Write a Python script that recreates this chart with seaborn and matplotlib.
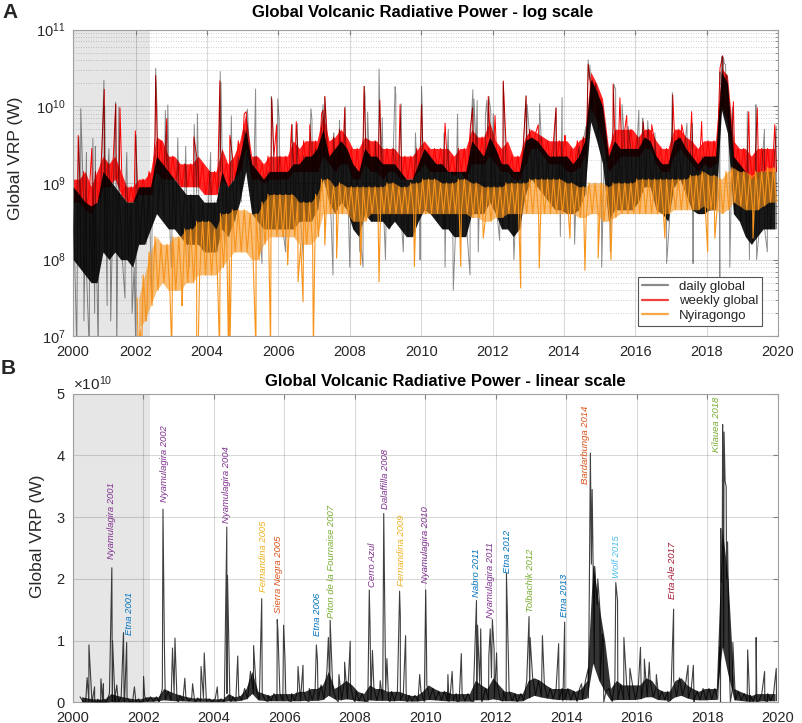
import numpy as np
import pandas as pd
import matplotlib
matplotlib.use("Agg")
import matplotlib.pyplot as plt
import seaborn as sns
from matplotlib.lines import Line2D
from matplotlib.ticker import LogLocator, NullFormatter, FixedLocator

nan = np.nan

# ---------------------------------------------------------------------------
# DATA
# Two-month bins, Jan-Feb 2000 ... Nov-Dec 2019 (6 per year), values = log10(W)
# ---------------------------------------------------------------------------
daily_hi = [
    nan, 8.95, 8.85, 8.75, 8.7, 8.75,      # 2000
    9.15, 9.05, 8.95, 8.85, 8.75, 8.75,    # 2001
    8.95, 8.95, 8.95, 9.35, 9.25, 9.15,    # 2002
    9.05, 8.95, 8.85, 8.85, 8.85, 8.75,    # 2003
    8.75, 8.75, 9.15, 8.95, 9.05, 9.35,    # 2004
    9.7, 9.25, 9.15, 9.05, 9.15, 9.15,     # 2005
    9.15, 9.15, 9.25, 9.25, 9.35, 9.35,    # 2006
    9.45, 9.7, 9.35, 9.45, 9.55, 9.45,     # 2007
    9.25, 9.15, 9.45, 9.35, 9.35, 9.25,    # 2008
    9.25, 9.25, 9.15, 9.05, 9.05, 9.25,    # 2009
    9.45, 9.35, 9.25, 9.25, 9.15, 9.15,    # 2010
    9.15, 9.15, 9.55, 9.45, 9.35, 9.6,     # 2011
    9.45, 9.25, 9.25, 9.15, 9.15, 9.55,    # 2012
    9.6, 9.55, 9.45, 9.35, 9.35, 9.35,     # 2013
    9.35, 9.25, 9.35, 9.55, 10.35, 10.2,   # 2014
    10.0, 9.35, 9.55, 9.45, 9.45, 9.45,    # 2015
    9.45, 9.6, 9.55, 9.35, 9.25, 9.25,     # 2016
    9.55, 9.6, 9.45, 9.35, 9.25, 9.35,     # 2017
    9.35, 9.35, 10.45, 10.3, 9.35, 9.25,   # 2018
    9.15, 9.05, 9.15, 9.15, 9.15, 9.15,    # 2019
]
daily_lo = [
    nan, 8.0, 7.9, 7.8, 7.7, 7.7,
    8.1, 8.0, 8.1, 8.0, 8.0, 7.9,
    8.2, 8.2, 8.4, 8.6, 8.5, 8.4,
    8.4, 8.3, 8.2, 8.2, 8.2, 8.1,
    8.1, 8.1, 8.4, 8.3, 8.5, 8.75,
    9.15, 8.6, 8.5, 8.4, 8.4, 8.4,
    8.4, 8.4, 8.4, 8.5, 8.5, 8.5,
    8.65, 9.05, 8.75, 8.6, 8.75, 8.65,
    8.4, 8.3, 8.6, 8.5, 8.5, 8.5,
    8.4, 8.5, 8.4, 8.3, 8.3, 8.5,
    8.65, 8.6, 8.5, 8.4, 8.4, 8.3,
    8.3, 8.3, 8.6, 8.6, 8.6, 8.75,
    8.6, 8.4, 8.4, 8.3, 8.4, 8.85,
    9.05, 8.95, 8.85, 8.75, 8.65, 8.65,
    8.6, 8.6, 8.65, 8.85, 9.8, 9.55,
    9.25, 8.5, 8.65, 8.65, 8.65, 8.65,
    8.75, 8.95, 8.95, 8.65, 8.6, 8.5,
    8.95, 9.05, 8.85, 8.65, 8.6, 8.6,
    8.65, 8.65, 9.95, 9.65, 8.6, 8.5,
    8.3, 8.2, 8.3, 8.4, 8.4, 8.4,
]
weekly_hi = [
    nan, 9.05, 9.05, 9.15, 8.95, 9.15,
    9.35, 9.25, 9.35, 9.15, 8.95, 8.95,
    9.05, 9.05, 9.15, 9.6, 9.55, 9.35,
    9.35, 9.25, 9.25, 9.25, 9.35, 9.25,
    9.15, 9.15, 9.45, 9.25, 9.35, 9.55,
    9.9, 9.35, 9.35, 9.25, 9.35, 9.35,
    9.35, 9.35, 9.55, 9.45, 9.55, 9.55,
    9.55, 9.9, 9.55, 9.6, 9.7, 9.6,
    9.45, 9.45, 9.6, 9.55, 9.55, 9.45,
    9.45, 9.45, 9.35, 9.35, 9.35, 9.45,
    9.55, 9.45, 9.45, 9.45, 9.45, 9.35,
    9.45, 9.45, 9.7, 9.6, 9.6, 9.8,
    9.55, 9.45, 9.55, 9.35, 9.35, 9.6,
    9.7, 9.65, 9.6, 9.55, 9.55, 9.55,
    9.55, 9.45, 9.55, 9.6, 10.45, 10.3,
    10.1, 9.45, 9.7, 9.7, 9.7, 9.7,
    9.6, 9.7, 9.7, 9.55, 9.45, 9.45,
    9.7, 9.7, 9.6, 9.55, 9.45, 9.55,
    9.55, 9.55, 10.5, 10.4, 9.55, 9.45,
    9.45, 9.35, 9.45, 9.45, 9.45, 9.45,
]
weekly_lo = [
    nan, 8.75, 8.75, 8.65, 8.6, 8.75,
    8.95, 8.95, 9.05, 8.85, 8.75, 8.75,
    8.85, 8.85, 8.85, 9.15, 9.05, 9.05,
    9.05, 8.95, 8.95, 8.95, 8.95, 8.85,
    8.85, 8.85, 9.05, 8.95, 9.05, 9.15,
    9.45, 9.05, 9.05, 9.0, 9.05, 9.05,
    9.05, 9.05, 9.15, 9.15, 9.15, 9.15,
    9.15, 9.35, 9.25, 9.15, 9.25, 9.25,
    9.05, 9.05, 9.25, 9.15, 9.15, 9.05,
    9.15, 9.15, 9.05, 9.05, 9.05, 9.15,
    9.25, 9.15, 9.15, 9.15, 9.15, 9.1,
    9.15, 9.05, 9.25, 9.25, 9.25, 9.35,
    9.25, 9.15, 9.15, 9.05, 9.05, 9.25,
    9.45, 9.45, 9.35, 9.25, 9.25, 9.25,
    9.15, 9.15, 9.2, 9.35, 10.0, 9.8,
    9.55, 9.15, 9.25, 9.35, 9.35, 9.35,
    9.35, 9.45, 9.45, 9.25, 9.15, 9.15,
    9.35, 9.45, 9.35, 9.25, 9.15, 9.25,
    9.2, 9.25, 10.0, 9.8, 9.2, 9.15,
    9.05, 9.05, 9.05, 9.15, 9.1, 9.15,
]
nyira_hi = [
    nan, nan, nan, nan, nan, nan,
    nan, nan, nan, nan, nan, nan,
    7.5, 7.8, 8.1, 8.3, 8.2, 8.2,
    8.3, 8.3, 8.4, 8.4, 8.5, 8.5,
    8.5, 8.4, 8.6, 8.6, 8.65, 8.65,
    8.65, 8.6, 8.6, 8.75, 8.85, 8.85,
    8.85, 8.85, 8.85, 8.75, 8.75, 8.75,
    8.85, 9.05, 9.05, 8.95, 9.0, 8.95,
    8.95, 8.95, 8.95, 8.95, 8.95, 8.95,
    9.0, 9.0, 8.95, 8.95, 9.0, 9.0,
    9.05, 9.05, 9.05, 9.0, 9.0, 9.0,
    9.05, 9.05, 9.0, 9.0, 8.95, 8.95,
    8.95, 8.95, 9.0, 9.0, 9.0, 9.0,
    9.05, 9.05, 9.05, 9.05, 9.05, 9.05,
    9.0, 9.0, 8.95, 8.95, 9.0, 9.0,
    9.0, 8.95, 9.0, 9.0, 9.0, 9.0,
    9.05, 9.05, 9.05, 9.05, 9.05, 9.05,
    9.05, 9.05, 9.05, 9.1, 9.1, 9.15,
    9.1, 9.1, 9.05, 9.15, 9.2, 9.15,
    9.15, 9.1, 9.15, 9.15, 9.2, 9.2,
]
nyira_lo = [
    nan, nan, nan, nan, nan, nan,
    nan, nan, nan, nan, nan, nan,
    7.1, 7.2, 7.4, 7.6, 7.7, 7.6,
    7.6, 7.6, 7.7, 7.7, 7.8, 7.8,
    7.8, 7.8, 7.9, 8.0, 8.1, 8.1,
    8.1, 8.0, 8.0, 8.2, 8.3, 8.3,
    8.3, 8.3, 8.3, 8.2, 8.2, 8.2,
    8.3, 8.6, 8.6, 8.6, 8.6, 8.6,
    8.5, 8.5, 8.5, 8.6, 8.6, 8.6,
    8.6, 8.6, 8.6, 8.6, 8.6, 8.6,
    8.6, 8.6, 8.6, 8.6, 8.6, 8.6,
    8.6, 8.6, 8.55, 8.55, 8.5, 8.5,
    8.55, 8.55, 8.6, 8.6, 8.6, 8.6,
    8.6, 8.6, 8.6, 8.6, 8.6, 8.6,
    8.6, 8.6, 8.55, 8.55, 8.6, 8.6,
    8.5, 8.5, 8.55, 8.6, 8.6, 8.6,
    8.6, 8.6, 8.6, 8.6, 8.6, 8.6,
    8.65, 8.65, 8.65, 8.65, 8.65, 8.7,
    8.65, 8.65, 8.6, 8.65, 8.75, 8.7,
    8.65, 8.65, 8.65, 8.7, 8.75, 8.75,
]

# Daily peaks (year, VRP in units of 1e10 W)
daily_peak_year = [
    2000.41, 2000.46, 2000.62, 2000.80, 2000.87, 2001.11, 2001.13, 2001.25, 2001.44, 2001.53,
    2001.75, 2002.01, 2002.56, 2002.60, 2002.83, 2002.90, 2003.18, 2003.40, 2003.64, 2003.73,
    2004.10, 2004.37, 2004.39, 2004.68, 2005.13, 2005.36, 2005.80, 2005.82, 2005.98, 2006.02,
    2006.39, 2006.53, 2006.91, 2006.94, 2007.25, 2007.30, 2007.55, 2007.71, 2007.87, 2008.41,
    2008.43, 2008.50, 2008.72, 2008.82, 2008.91, 2009.27, 2009.29, 2009.44, 2009.84, 2010.01,
    2010.03, 2010.64, 2010.76, 2011.02, 2011.45, 2011.48, 2011.57, 2011.80, 2011.84, 2011.90,
    2011.95, 2012.02, 2012.30, 2012.94, 2012.97, 2013.32, 2013.78, 2013.95, 2014.43, 2014.62,
    2014.68, 2014.73, 2014.80, 2014.83, 2014.89, 2014.95, 2015.02, 2015.40, 2015.45, 2015.63,
    2015.80, 2016.10, 2016.21, 2016.35, 2016.55, 2017.04, 2017.45, 2017.60, 2018.35, 2018.39,
    2018.42, 2018.43, 2018.47, 2018.50, 2018.53, 2018.57, 2018.60, 2018.72, 2019.14, 2019.38,
    2019.62, 2019.95,
]
daily_peak_1e10 = [
    0.40, 0.93, 0.25, 0.38, 0.30, 2.18, 1.00, 0.28, 1.13, 0.97,
    0.25, 0.42, 3.13, 0.92, 0.88, 1.04, 0.39, 0.30, 0.58, 0.80,
    0.25, 2.84, 2.05, 0.75, 0.92, 1.68, 1.34, 1.15, 1.25, 0.70,
    0.58, 0.60, 0.93, 0.68, 1.05, 1.33, 0.45, 0.65, 0.99, 1.82,
    1.30, 0.84, 0.35, 3.06, 0.71, 1.80, 1.40, 1.08, 0.45, 1.82,
    1.00, 0.45, 0.50, 0.79, 1.65, 1.25, 1.19, 0.75, 1.19, 1.34,
    0.85, 0.80, 2.09, 1.39, 1.05, 1.08, 0.95, 1.30, 0.30, 0.55,
    4.04, 3.45, 2.20, 1.94, 2.00, 1.50, 1.10, 1.94, 1.65, 1.05,
    0.55, 0.89, 0.70, 0.65, 0.45, 1.51, 0.60, 0.60, 0.90, 1.94,
    2.60, 4.50, 4.38, 3.58, 3.50, 2.60, 1.40, 0.97, 0.85, 1.05,
    0.50, 0.55,
]
# Daily low excursions (year, log10 W)
daily_dip_year = [
    2000.35, 2000.55, 2000.70, 2000.85, 2000.95, 2001.20, 2001.30, 2001.47, 2001.70, 2001.90,
    2002.00, 2002.45, 2003.00, 2003.50, 2004.30, 2004.50, 2005.54, 2006.20, 2006.70, 2007.53,
    2008.00, 2008.29, 2008.37, 2009.00, 2009.50, 2009.97, 2010.67, 2010.90, 2011.37, 2011.60,
    2012.20, 2012.60, 2013.90, 2014.30, 2015.06, 2015.30, 2016.88, 2017.62, 2018.37, 2018.65,
    2019.20, 2019.40, 2019.70,
]
daily_dip_log = [
    6.8, 7.2, 6.8, 7.3, 6.8, 7.4, 7.2, 6.8, 7.5, 7.3,
    6.9, 7.5, 7.9, 7.9, 8.1, 8.2, 7.95, 8.1, 8.0, 7.8,
    7.9, 8.1, 7.9, 8.0, 8.1, 8.0, 7.9, 7.6, 7.8, 8.1,
    8.25, 8.0, 8.3, 8.2, 7.9, 8.1, 7.95, 7.95, 7.7, 7.9,
    8.0, 8.0, 8.1,
]
# Weekly peaks (year, log10 W)
weekly_peak_year = [
    2000.39, 2000.77, 2001.12, 2001.44, 2001.56, 2001.99, 2002.56, 2002.87, 2003.63, 2004.36,
    2004.64, 2005.10, 2005.81, 2005.95, 2006.37, 2006.50, 2006.88, 2007.25, 2007.30, 2007.86,
    2008.40, 2008.84, 2009.41, 2010.01, 2010.67, 2011.44, 2011.88, 2012.07, 2012.30, 2012.94,
    2013.28, 2013.78, 2014.03, 2014.68, 2015.38, 2015.57, 2015.76, 2016.22, 2016.46, 2017.05,
    2017.30, 2017.58, 2017.86, 2018.45, 2018.75, 2019.18, 2019.42, 2019.91,
]
weekly_peak_log = [
    9.62, 9.45, 10.22, 10.03, 9.98, 9.68, 10.4, 9.84, 9.6, 10.33,
    9.62, 9.93, 10.11, 9.76, 9.76, 9.8, 9.76, 9.95, 10.13, 9.98,
    10.26, 10.08, 10.02, 10.02, 9.78, 9.98, 10.13, 9.88, 10.33, 10.13,
    9.76, 9.98, 9.62, 10.55, 10.29, 10.11, 9.88, 9.8, 9.76, 10.15,
    9.76, 9.93, 9.8, 10.66, 10.06, 9.93, 9.98, 9.76,
]
# Nyiragongo low excursions (year, log10 W)
nyira_dip_year = [
    2002.07, 2002.17, 2002.30, 2003.01, 2003.30, 2003.71, 2003.75, 2004.35, 2004.60, 2004.64,
    2005.37, 2005.78, 2006.26, 2006.55, 2006.69, 2006.98, 2007.30, 2007.63, 2008.30, 2008.82,
    2009.81, 2011.11, 2011.74, 2012.79, 2013.31, 2014.17, 2014.59, 2014.96, 2015.32, 2016.83,
    2018.03, 2018.23, 2019.30,
]
nyira_dip_log = [
    6.8, 6.8, 7.2, 6.8, 7.4, 6.8, 6.8, 6.8, 6.8, 6.8,
    6.8, 6.8, 7.93, 7.71, 7.45, 6.8, 8.19, 8.02, 7.93, 7.71,
    7.91, 7.91, 8.28, 7.63, 7.89, 8.28, 7.86, 8.02, 8.0, 8.28,
    8.1, 8.28, 8.28,
]

# Annotated eruptions (linear panel)
event_names = ["Nyamulagira 2001", "Etna 2001", "Nyamulagira 2002", "Nyamulagira 2004",
               "Fernandina 2005", "Sierra Negra 2005", "Etna 2006", "Piton de la Fournaise 2007",
               "Cerro Azul", "Dalaffilla 2008", "Fernandina 2009", "Nyamulagira 2010",
               "Nabro 2011", "Nyamulagira 2011", "Etna 2012", "Tolbachik 2012", "Etna 2013",
               "Bardarbunga 2014", "Wolf 2015", "Erta Ale 2017", "Kilauea 2018"]
event_year = [2001.11, 2001.60, 2002.61, 2004.36, 2005.40, 2005.83, 2006.93, 2007.33,
              2008.50, 2008.87, 2009.32, 2010.01, 2011.45, 2011.84, 2012.34, 2012.98,
              2013.95, 2014.55, 2015.43, 2017.02, 2018.27]
event_label_1e10 = [2.33, 1.09, 3.25, 2.91, 1.79, 1.45, 1.07, 1.37, 1.87, 3.14, 1.88, 1.93,
                    1.71, 1.37, 2.10, 1.47, 1.38, 3.54, 2.01, 1.67, 4.06]
event_group = ["purple", "blue", "purple", "purple", "yellow", "orange", "blue", "green",
               "purple", "purple", "yellow", "purple", "blue", "purple", "blue", "green",
               "blue", "orange", "cyan", "darkred", "green"]

# ---------------------------------------------------------------------------
palette = {"purple": "#7E2F8E", "blue": "#0072BD", "yellow": "#EDB120",
           "orange": "#D95319", "green": "#77AC30", "cyan": "#4DBEEE", "darkred": "#A2142F"}
C_RED = "#FF0000"
C_ORG = "#F7941D"

sns.set_style("white")
plt.rcParams['font.family'] = ['Liberation Sans', 'DejaVu Sans']
plt.rcParams['mathtext.fontset'] = 'custom'
plt.rcParams['mathtext.rm'] = 'Liberation Sans'
plt.rcParams['mathtext.it'] = 'Liberation Sans:italic'
plt.rcParams['mathtext.bf'] = 'Liberation Sans:bold'
plt.rcParams['axes.unicode_minus'] = False

t_bin = 2000 + (np.arange(len(daily_hi)) + 0.5) / 6.0


def build_series(hi, lo, extra_year, extra_log):
    hi = np.asarray(hi, float)
    lo = np.asarray(lo, float)
    t = np.column_stack([t_bin - 1 / 24, t_bin + 1 / 24]).ravel()
    v = np.column_stack([hi, lo]).ravel()
    t = np.concatenate([t, np.asarray(extra_year, float)])
    v = np.concatenate([v, np.asarray(extra_log, float)])
    m = ~np.isnan(v)
    return pd.DataFrame({"year": t[m], "W": 10.0 ** v[m]}).sort_values("year")


daily_extra_year = list(daily_peak_year) + list(daily_dip_year)
daily_extra_log = list(np.log10(np.asarray(daily_peak_1e10) * 1e10)) + list(daily_dip_log)
df_daily = build_series(daily_hi, daily_lo, daily_extra_year, daily_extra_log)
df_weekly = build_series(weekly_hi, weekly_lo, weekly_peak_year, weekly_peak_log)
df_nyira = build_series(nyira_hi, nyira_lo, nyira_dip_year, nyira_dip_log)

W = lambda a: 10.0 ** np.asarray(a, float)

fig = plt.figure(figsize=(8.03, 7.23), dpi=100)
FW, FH = 803.0, 723.0
ax1 = fig.add_axes([72.7 / FW, 1 - 336.3 / FH, 705.3 / FW, 306.7 / FH])
ax2 = fig.add_axes([72.7 / FW, 1 - 702.3 / FH, 705.3 / FW, 308.5 / FH])

SPINE = "#a0a0a0"
for ax in (ax1, ax2):
    for s in ax.spines.values():
        s.set_color(SPINE)
        s.set_linewidth(0.8)
    ax.tick_params(which="both", direction="in", color="#808080", labelcolor="#262626",
                   labelsize=10.5, top=True, right=True)
    ax.tick_params(which="major", length=3.5)
    ax.tick_params(which="minor", length=2)
    ax.tick_params(axis="x", pad=6)
    ax.tick_params(axis="y", pad=5)

# ---------------- Panel A: log scale ----------------
ax1.set_yscale("log")
x0_top = 2000.235
ax1.axvspan(x0_top, 2002.40, color="#e6e6e6", lw=0, zorder=0.5)
ax1.fill_between(t_bin, W(weekly_lo), W(weekly_hi), color=C_RED, alpha=0.85, lw=0, zorder=2)
sns.lineplot(data=df_weekly, x="year", y="W", ax=ax1, color=C_RED, lw=0.7,
             estimator=None, sort=True, zorder=2.1)
ax1.fill_between(t_bin, W(daily_lo), W(daily_hi), color="black", alpha=0.9, lw=0, zorder=3)
sns.lineplot(data=df_daily, x="year", y="W", ax=ax1, color="black", alpha=0.45, lw=0.7,
             estimator=None, sort=True, zorder=3.1)
ax1.fill_between(t_bin, W(nyira_lo), W(nyira_hi), color=C_ORG, alpha=0.6, lw=0, zorder=4)
sns.lineplot(data=df_nyira, x="year", y="W", ax=ax1, color=C_ORG, lw=0.8,
             estimator=None, sort=True, zorder=4.1)

ax1.set_xlim(x0_top, 2020)
ax1.set_ylim(1e7, 1e11)
ax1.yaxis.set_major_locator(LogLocator(base=10, numticks=10))
ax1.yaxis.set_minor_locator(LogLocator(base=10, subs=np.arange(2, 10), numticks=50))
ax1.yaxis.set_minor_formatter(NullFormatter())
ax1.set_xticks([x0_top] + list(range(2002, 2021, 2)))
ax1.set_xticklabels(["2000"] + [str(y) for y in range(2002, 2021, 2)])
ax1.grid(True, which="major", color="black", alpha=0.15, lw=0.8)
ax1.grid(True, which="minor", axis="y", color="black", alpha=0.25, lw=0.6, ls=(0, (1, 2)))
ax1.set_axisbelow("line")
ax1.set_xlabel("")
ax1.set_ylabel("Global VRP (W)", fontsize=12.5, color="#262626")
ax1.yaxis.set_label_coords(-0.0705, 0.581)

handles = [Line2D([], [], color="#8a8a8a", lw=1.6),
           Line2D([], [], color="#f04040", lw=1.6),
           Line2D([], [], color="#f8a848", lw=1.6)]
leg = ax1.legend(handles, ["daily global", "weekly global", "Nyiragongo"],
                 loc="lower right", bbox_to_anchor=(0.9777, 0.0336), borderaxespad=0,
                 fontsize=9.5, frameon=True, fancybox=False, edgecolor="#555555",
                 framealpha=1, handlelength=2.0, labelspacing=0.18, borderpad=0.3,
                 handletextpad=0.8)
leg.get_frame().set_linewidth(0.8)
leg.set_zorder(10)

# ---------------- Panel B: linear scale ----------------
ax2.axvspan(2000, 2002.18, color="#e6e6e6", lw=0, zorder=0.5)
ax2.fill_between(t_bin, W(daily_lo), W(daily_hi), color="black", alpha=0.8, lw=0, zorder=3)
sns.lineplot(data=df_daily, x="year", y="W", ax=ax2, color="black", alpha=0.75, lw=0.8,
             estimator=None, sort=True, zorder=3.1)
ax2.set_xlim(2000, 2020)
ax2.set_ylim(0, 5e10)
ax2.set_xticks(list(range(2000, 2021, 2)))
ax2.yaxis.set_major_locator(FixedLocator([0, 1e10, 2e10, 3e10, 4e10, 5e10]))
ax2.ticklabel_format(axis="y", style="sci", scilimits=(10, 10), useMathText=True)
ax2.yaxis.get_offset_text().set_fontsize(11)
ax2.grid(True, which="major", color="black", alpha=0.15, lw=0.8)
ax2.set_axisbelow("line")
ax2.set_xlabel("")
ax2.set_ylabel("Global VRP (W)", fontsize=12.5, color="#262626")
ax2.yaxis.set_label_coords(-0.0393, 0.537)

for name, yr, lab, grp in zip(event_names, event_year, event_label_1e10, event_group):
    ax2.text(yr, lab * 1e10, name, rotation=90, ha="center", va="bottom",
             fontsize=6.8, style="italic", color=palette[grp], zorder=6)

# Titles and panel letters
fig.text(422.8 / FW, 1 - 12.5 / FH, "Global Volcanic Radiative Power - log scale",
         ha="center", va="center", fontsize=12, fontweight="bold", color="black")
fig.text(445 / FW, 1 - 381.5 / FH, "Global Volcanic Radiative Power - linear scale",
         ha="center", va="center", fontsize=12, fontweight="bold", color="black")
fig.text(10.5 / FW, 1 - 12 / FH, "A", ha="center", va="center", fontsize=15, fontweight="bold")
fig.text(8.5 / FW, 1 - 369 / FH, "B", ha="center", va="center", fontsize=15, fontweight="bold")

fig.savefig("out.png", dpi=100)
